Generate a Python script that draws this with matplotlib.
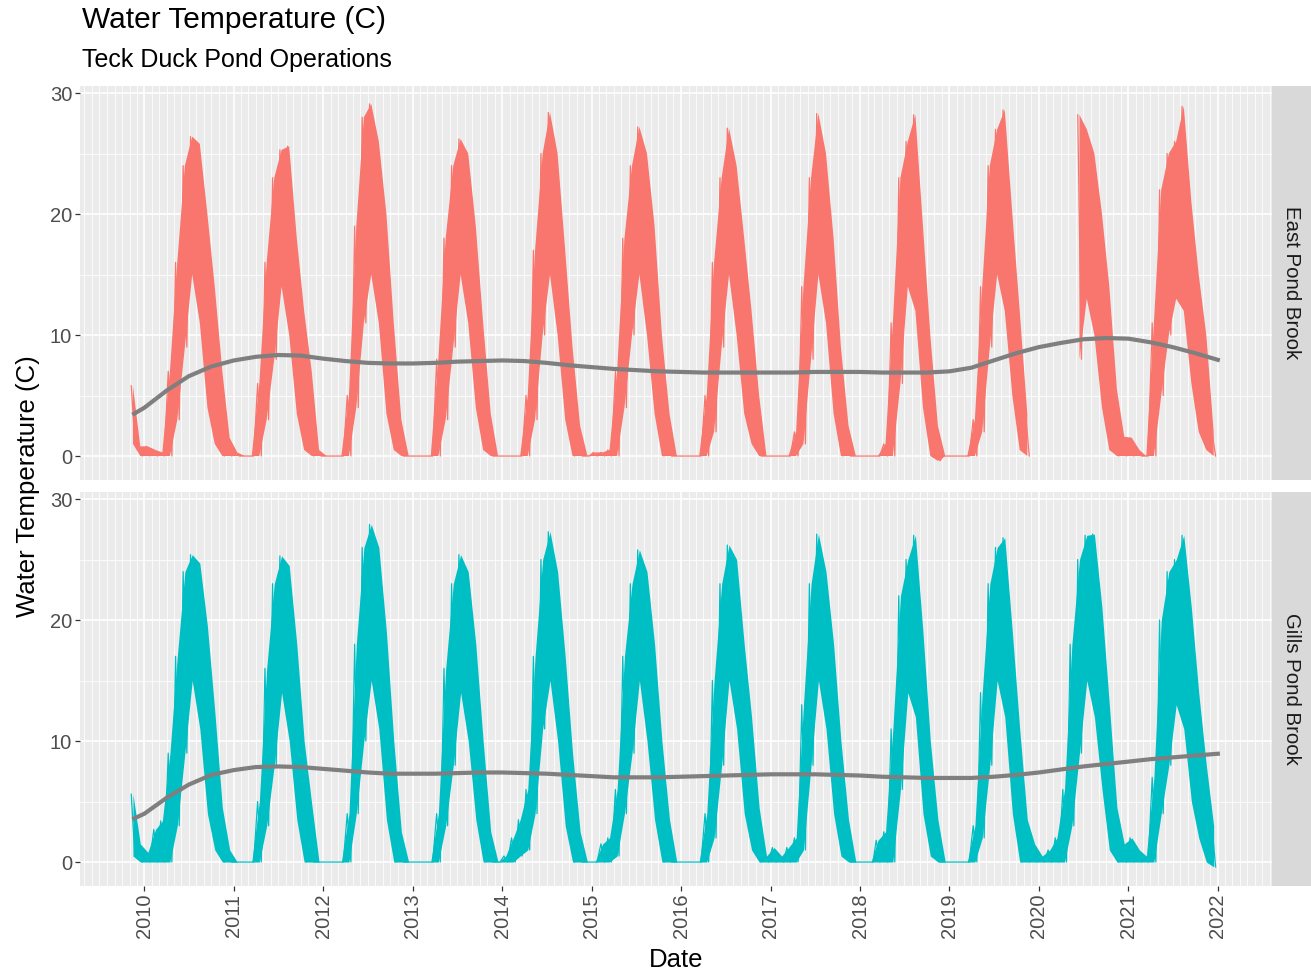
import matplotlib.pyplot as plt
import matplotlib.dates as mdates
from matplotlib.ticker import MultipleLocator
import numpy as np
import pandas as pd

plt.rcParams['font.family'] = ['Liberation Sans', 'DejaVu Sans']

nan = np.nan

# monthly records, Nov 2009 .. Dec 2021
months = pd.date_range('2009-11-01', '2021-12-01', freq='MS')

# East Pond Brook: monthly upper / lower envelope of the logged temperature
east_high = [
    5.8, 0.8,                                                   # 2009
    0.8, 0.5, 0.3, 7, 16, 24, 26.4, 25.8, 20, 14, 7, 1.5,       # 2010
    0.3, 0, 0, 6, 16, 23, 25.3, 25.6, 18, 12, 7, 0.5,           # 2011
    0, 0, 0, 5, 19, 28, 29.1, 26, 20, 11, 3, 0,                 # 2012
    0, 0, 0, 8, 18, 24, 26.2, 25, 19, 11, 3.5, 0,               # 2013
    0, 0, 0, 5, 17, 25, 28.4, 25, 17, 9, 2.5, 0,                # 2014
    0.3, 0.3, 0.5, 7, 18, 24, 27.2, 25, 19, 10, 3.5, 0,         # 2015
    0, 0, 0, 5, 16, 23, 27.1, 24, 18, 12, 5, 0,                 # 2016
    0, 0, 0, 2, 14, 23, 28.3, 25, 18, 9, 2.5, 0,                # 2017
    0, 0, 0, 1, 11, 23, 26, 28.2, 19, 10, 2.5, 0,               # 2018
    0, 0, 0, 3, 14, 24, 27, 28.6, 20, 12, 3.5, nan,             # 2019
    nan, nan, nan, nan, nan, 28.2, 27, 25, 20, 14, 5.5, 1.6,    # 2020
    1.5, 0.5, 0, 11, 22, 25, 26, 28.9, 21, 15, 10, 2,           # 2021
]
east_low = [
    1.0, 0,
    0, 0, 0, 0, 3, 9, 15, 11, 4, 1, 0, 0,
    0, 0, 0, 0, 3, 8, 14, 10, 3.5, 0.5, 0, 0,
    0, 0, 0, 0, 4, 11, 15, 11, 3.5, 0.5, 0, 0,
    0, 0, 0, 0, 3, 9, 15, 11, 4, 0.5, 0, 0,
    0, 0, 0, 0, 3, 10, 15, 10, 3, 0, 0, 0,
    0, 0, 0, 0, 4, 10, 15, 10, 3.5, 0, 0, 0,
    0, 0, 0, 0, 2, 9, 15, 10, 3.5, 1, 0, 0,
    0, 0, 0, 0, 1, 8, 15, 11, 3.5, 0, 0, 0,
    0, 0, 0, 0, 0, 6, 14, 12, 4, 0, -0.4, 0,
    0, 0, 0, 0, 2, 9, 15, 12, 5, 0.5, 0, nan,
    nan, nan, nan, nan, nan, 8, 13, 10, 4, 0.5, 0, 0,
    0, 0, 0, 0, 5, 10, 13, 12, 6, 2, 0.5, 0,
]

# Gills Pond Brook
gills_high = [
    5.6, 1.5,
    0.8, 2.7, 3.4, 9, 17, 24, 25.4, 24.7, 19.5, 12.5, 4.5, 1,
    0, 0, 0, 5, 16, 23, 25.3, 24.5, 18, 10, 4.8, 0,
    0, 0, 0, 4, 18, 26, 27.9, 26, 19, 10, 2.5, 0,
    0, 0, 0, 4, 16, 23, 25.4, 24, 18, 10, 2.5, 0,
    0.5, 2, 3.5, 6, 17, 25, 27.3, 24, 17, 9, 2.5, 0,
    0, 1.5, 2, 6, 17, 23, 25.8, 24, 18, 10, 3.5, 0,
    0, 0, 0, 4, 15, 23, 26.2, 25, 18, 12, 4.5, 0.5,
    1.2, 0.5, 1.2, 2, 13, 23, 27.1, 24, 18, 10, 3.5, 0,
    0, 0, 1.8, 2.5, 11, 22, 25, 27, 19, 10, 3.5, 0,
    0, 0, 0, 3, 14, 23, 26, 26.8, 19, 11, 3.5, 1.5,
    0.5, 1, 2, 6, 18, 25, 27, 27.1, 21, 13, 4.5, 1.5,
    2, 1, 0.5, 7, 20, 24, 25, 27, 21, 14, 8, 3,
]
gills_low = [
    0.5, 0,
    0, 0, 0, 0, 3, 9, 15, 11, 4, 1, 0, 0,
    0, 0, 0, 0, 3, 8, 14, 10, 3.5, 0, 0, 0,
    0, 0, 0, 0, 4, 10, 15, 11, 3.5, 0, 0, 0,
    0, 0, 0, 0, 3, 8, 14, 10, 3.5, 0, 0, 0,
    0, 0, 0.5, 1, 4, 11, 15, 10, 3, 0, 0, 0,
    0, 0, 0, 0.5, 4, 9, 15, 10, 3.5, 0, 0, 0,
    0, 0, 0, 0, 2, 8, 15, 11, 4, 1, 0, 0,
    0, 0, 0, 0, 1, 8, 15, 11, 4, 0.5, 0, 0,
    0, 0, 0, 0, 0, 6, 14, 12, 4, 0.5, 0, 0,
    0, 0, 0, 0, 2, 8, 15, 12, 4, 0, 0, 0,
    0, 0, 0, 0, 3, 9, 15, 12, 6, 1, 0, 0,
    0, 0, 0, 0, 4, 8, 13, 11, 5, 2, 0, -0.4,
]

# smoothed trend, read at the record start and then quarterly
smooth_dates = pd.DatetimeIndex(['2009-11-20']).append(
    pd.date_range('2010-01-01', '2022-01-01', freq='QS'))
east_smooth = [
    3.5,
    4.0, 5.4, 6.6, 7.4,
    7.9, 8.2, 8.35, 8.3,
    8.05, 7.85, 7.7, 7.65,
    7.65, 7.7, 7.8, 7.85,
    7.9, 7.85, 7.7, 7.5,
    7.35, 7.2, 7.1, 7.0,
    6.95, 6.9, 6.9, 6.9,
    6.9, 6.9, 6.95, 6.95,
    6.95, 6.9, 6.9, 6.9,
    7.0, 7.3, 7.9, 8.5,
    9.0, 9.35, 9.65, 9.75,
    9.7, 9.4, 9.0, 8.5,
    7.95,
]
gills_smooth = [
    3.6,
    4.0, 5.3, 6.4, 7.2,
    7.6, 7.85, 7.9, 7.85,
    7.7, 7.55, 7.4, 7.3,
    7.3, 7.3, 7.35, 7.4,
    7.4, 7.35, 7.3, 7.2,
    7.1, 7.0, 7.0, 7.0,
    7.05, 7.1, 7.15, 7.2,
    7.25, 7.25, 7.25, 7.2,
    7.15, 7.05, 7.0, 6.95,
    6.95, 6.95, 7.05, 7.2,
    7.4, 7.65, 7.9, 8.1,
    8.3, 8.5, 8.65, 8.8,
    8.95,
]

sites = ['East Pond Brook', 'Gills Pond Brook']
colours = ['#F8766D', '#00BFC4']
highs = [east_high, gills_high]
lows = [east_low, gills_low]
smooths = [east_smooth, gills_smooth]

W, H = 1311, 972
fig = plt.figure(figsize=(W / 100, H / 100), dpi=100)

left, right = 80, 1272
panel_tops = [86, 492]
panel_h = 394

peak_x = months + pd.Timedelta(days=7)
trough_x = months + pd.Timedelta(days=22)
mid_x = months + pd.Timedelta(days=14)
zig_x = np.column_stack([peak_x.values, trough_x.values]).ravel()

start = pd.Timestamp('2009-11-20')
end = pd.Timestamp('2022-01-01')
span = end - start
xlim = (mdates.date2num(start - span * 0.05), mdates.date2num(end + span * 0.05))

for i, site in enumerate(sites):
    top = panel_tops[i]
    ax = fig.add_axes([left / W, 1 - (top + panel_h) / H, (right - left) / W, panel_h / H])
    ax.set_facecolor('#EBEBEB')
    for s in ax.spines.values():
        s.set_visible(False)

    hi = np.array(highs[i], dtype=float)
    lo = np.array(lows[i], dtype=float)
    ax.fill_between(mid_x, lo, hi, color=colours[i], lw=0, zorder=2)
    zig_y = np.column_stack([hi, lo]).ravel()
    ax.plot(zig_x, zig_y, color=colours[i], lw=0.9, zorder=3)
    ax.plot(smooth_dates, smooths[i], color='#7F7F7F', lw=3, zorder=4)

    ax.set_xlim(xlim)
    ax.set_ylim(-1.98, 30.58)
    ax.xaxis.set_major_locator(mdates.YearLocator())
    ax.xaxis.set_minor_locator(mdates.MonthLocator())
    ax.xaxis.set_major_formatter(mdates.DateFormatter('%Y'))
    ax.yaxis.set_major_locator(MultipleLocator(10))
    ax.yaxis.set_minor_locator(MultipleLocator(5))
    ax.set_axisbelow(True)
    ax.grid(which='major', color='white', lw=1.2)
    ax.grid(which='minor', color='white', lw=0.55)
    ax.tick_params(which='minor', length=0)
    ax.tick_params(which='major', length=3.6, width=0.9, color='#333333',
                   labelcolor='#4D4D4D', labelsize=14.5, pad=2)
    if i == 0:
        ax.tick_params(axis='x', which='major', length=0, labelbottom=False)
    else:
        ax.tick_params(axis='x', labelrotation=90)

    strip = fig.add_axes([right / W, 1 - (top + panel_h) / H, (W - right) / W, panel_h / H])
    strip.set_facecolor('#D9D9D9')
    strip.set_xticks([])
    strip.set_yticks([])
    for s in strip.spines.values():
        s.set_visible(False)
    strip.text(0.5, 0.5, site, rotation=-90, ha='center', va='center',
               fontsize=14.7, color='#1A1A1A', transform=strip.transAxes)

fig.text(82 / W, 1 - 20 / H, 'Water Temperature (C)', fontsize=21.5, va='center', ha='left')
fig.text(82 / W, 1 - 60 / H, 'Teck Duck Pond Operations', fontsize=18, va='center', ha='left')
fig.text(28 / W, 1 - 486 / H, 'Water Temperature (C)', fontsize=18.5, rotation=90,
         va='center', ha='center')
fig.text(676 / W, 1 - 960 / H, 'Date', fontsize=18.5, va='center', ha='center')

fig.savefig('out.png', dpi=100)
